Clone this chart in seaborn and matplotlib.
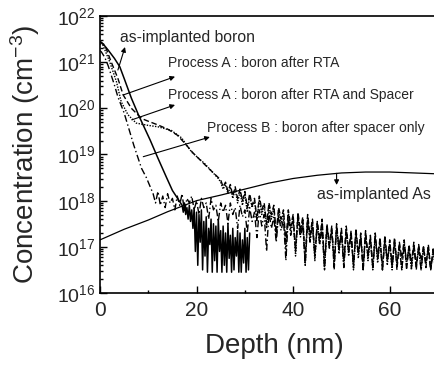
import numpy as np
import pandas as pd
import matplotlib
matplotlib.use("Agg")
import matplotlib.pyplot as plt
import seaborn as sns
from matplotlib.ticker import LogLocator, MultipleLocator, NullFormatter

# ---- data (depth in nm, log10 of concentration in cm^-3) ----
# as-implanted boron (solid)
asimp_depth = [0, 0.3, 1.0, 1.7, 3.0, 4.1, 5.1, 6.5, 8.0, 10.4, 12.0, 13.7, 15.0, 16.5]
asimp_log = [21.45, 21.42, 21.35, 21.26, 21.08, 20.90, 20.62, 20.22, 19.85, 19.31, 18.92, 18.52, 18.22, 17.98]
# noisy tail, 17 - 31 nm every 0.25 nm
asimp_tail_start, asimp_tail_step = 17.0, 0.25
asimp_tail_log = [
    17.90, 17.75, 17.95, 17.70, 17.85, 17.60, 17.90, 17.55, 17.80, 17.40,
    17.85, 16.90, 17.75, 16.60, 17.70, 17.10, 17.80, 16.50, 17.55, 16.80,
    17.65, 16.45, 17.40, 17.05, 17.60, 16.45, 17.50, 16.70, 17.45, 16.45,
    17.60, 16.90, 17.35, 16.45, 17.45, 16.60, 17.30, 16.45, 17.50, 16.75,
    17.25, 16.45, 17.40, 16.50, 17.20, 16.80, 17.35, 16.45, 17.30, 16.45,
    17.15, 16.65, 17.40, 16.45, 17.20, 16.50, 17.30,
]

# Process A : boron after RTA (dashed)
rta_depth = [0, 1.0, 2.3, 3.7, 4.8, 6.5, 8.6, 10.0, 12.0, 14.0, 16.0, 17.5, 19.3, 22.1, 24.5]
rta_log = [21.45, 21.37, 21.01, 20.65, 20.29, 20.00, 19.78, 19.72, 19.64, 19.55, 19.42, 19.25, 19.03, 18.74, 18.50]
# Process A : boron after RTA and Spacer (dotted)
rtasp_depth = [0, 0.6, 2.0, 3.4, 4.4, 5.8, 7.5, 10.0, 12.0, 14.8, 16.9, 19.0, 21.7, 24.5]
rtasp_log = [21.40, 21.37, 21.01, 20.58, 20.14, 19.86, 19.68, 19.63, 19.60, 19.52, 19.36, 19.05, 18.80, 18.48]
# noisy tails of both Process A profiles, 25 - 70 nm every 0.5 nm
procA_tail_start, procA_tail_step = 25.0, 0.5
rta_tail_log = [
    18.45, 18.30, 18.40, 18.20, 18.35, 18.10, 18.30, 18.05, 18.25, 18.00,
    18.20, 17.85, 18.15, 17.90, 18.05, 17.60, 18.10, 17.80, 17.95, 17.50,
    17.95, 17.70, 17.90, 17.30, 17.85, 17.60, 17.80, 17.10, 17.80, 17.45,
    17.70, 16.90, 17.75, 17.35, 17.65, 16.70, 17.70, 17.25, 17.60, 16.80,
    17.55, 17.15, 17.60, 16.60, 17.50, 17.05, 17.45, 16.50, 17.50, 16.95,
    17.40, 16.70, 17.45, 16.90, 17.35, 16.55, 17.40, 16.85, 17.30, 16.50,
    17.35, 16.80, 17.25, 16.55, 17.30, 16.75, 17.20, 16.50, 17.25, 16.70,
    17.15, 16.60, 17.20, 16.50, 17.10, 16.75, 17.15, 16.50, 17.05, 16.65,
    17.10, 16.50, 17.05, 16.70, 17.00, 16.55, 17.05, 16.50, 16.95, 16.65,
    17.00,
]
rtasp_tail_log = [
    18.40, 18.25, 18.35, 18.15, 18.30, 18.05, 18.25, 17.95, 18.20, 17.90,
    18.15, 17.75, 18.10, 17.85, 18.00, 17.55, 18.05, 17.70, 17.90, 17.40,
    17.90, 17.60, 17.85, 17.20, 17.80, 17.50, 17.75, 16.95, 17.75, 17.35,
    17.65, 16.80, 17.70, 17.25, 17.60, 16.60, 17.65, 17.15, 17.55, 16.70,
    17.50, 17.05, 17.55, 16.50, 17.45, 16.95, 17.40, 16.60, 17.45, 16.85,
    17.35, 16.55, 17.40, 16.80, 17.30, 16.50, 17.35, 16.75, 17.25, 16.55,
    17.30, 16.70, 17.20, 16.50, 17.25, 16.65, 17.15, 16.55, 17.20, 16.60,
    17.10, 16.50, 17.15, 16.65, 17.05, 16.50, 17.10, 16.60, 17.00, 16.50,
    17.05, 16.60, 17.00, 16.50, 16.95, 16.65, 17.00, 16.55, 16.90, 16.50,
    16.95,
]

# Process B : boron after spacer only (dash-dot)
procB_depth = [0, 0.3, 1.0, 1.7, 3.0, 3.7, 5.0, 7.0, 8.6, 9.6, 10.4]
procB_log = [21.25, 21.22, 21.10, 20.92, 20.50, 20.25, 19.90, 19.20, 18.70, 18.50, 18.30]
procB_tail_start, procB_tail_step = 11.0, 0.5
procB_tail_log = [
    18.15, 17.95, 18.20, 17.90, 18.10, 17.85, 18.15, 17.95, 18.05, 17.80,
    18.10, 17.90, 18.15, 17.75, 18.05, 17.95, 18.10, 17.80, 18.00, 17.70,
    18.05, 17.85, 17.95, 17.60, 18.05, 17.80, 17.90, 17.55, 17.95, 17.75,
    17.90, 17.50, 17.95, 17.70, 17.85, 17.40, 17.90, 17.65, 17.80, 17.30,
    17.85, 17.55, 17.75, 17.20, 17.80, 17.45, 17.70, 16.90, 17.75, 17.40,
    17.65, 17.10, 17.70, 17.35, 17.60, 16.70, 17.65, 17.25, 17.55, 16.95,
    17.60, 17.20, 17.50, 16.60, 17.55, 17.10, 17.45, 16.80, 17.50, 17.05,
    17.40, 16.50, 17.45, 17.00, 17.35, 16.70, 17.40, 16.95, 17.30, 16.55,
    17.35, 16.90, 17.25, 16.60, 17.30, 16.85, 17.20, 16.50, 17.25, 16.80,
    17.15, 16.55, 17.20, 16.75, 17.10, 16.50, 17.15, 16.70, 17.05, 16.55,
    17.10, 16.65, 17.00, 16.50, 17.05, 16.70, 16.95, 16.55, 17.00, 16.60,
    16.95, 16.50, 17.00, 16.65, 16.90, 16.50, 16.95, 16.60, 16.90,
]

# as-implanted arsenic (smooth)
as_depth = [0, 5, 10, 14, 20, 25, 30, 35, 40, 45, 50, 55, 60, 65, 70]
as_log = [17.15, 17.38, 17.58, 17.76, 18.00, 18.12, 18.25, 18.38, 18.48, 18.55, 18.60, 18.62, 18.62, 18.60, 18.58]


def profile(depth, logc, tail_start=None, tail_step=None, tail_log=()):
    d = list(depth) + [tail_start + i * tail_step for i in range(len(tail_log))]
    c = list(logc) + list(tail_log)
    return pd.DataFrame({"depth": d, "conc": np.power(10.0, c)})


df_asimp = profile(asimp_depth, asimp_log, asimp_tail_start, asimp_tail_step, asimp_tail_log)
df_rta = profile(rta_depth, rta_log, procA_tail_start, procA_tail_step, rta_tail_log)
df_rtasp = profile(rtasp_depth, rtasp_log, procA_tail_start, procA_tail_step, rtasp_tail_log)
df_procB = profile(procB_depth, procB_log, procB_tail_start, procB_tail_step, procB_tail_log)
df_as = profile(as_depth, as_log)

sns.set_theme(style="ticks")
plt.rcParams["font.family"] = ["Liberation Sans", "DejaVu Sans"]
plt.rcParams["mathtext.fontset"] = "custom"
plt.rcParams["mathtext.rm"] = "Liberation Sans"
plt.rcParams["mathtext.it"] = "Liberation Sans:italic"

fig = plt.figure(figsize=(4.34, 3.65), dpi=100)
ax = fig.add_axes([0.2304, 0.1973, 0.7788, 0.7589])

line_kw = dict(color="black", estimator=None, sort=False, ax=ax)
sns.lineplot(data=df_as, x="depth", y="conc", lw=0.9, linestyle="-", **line_kw)
sns.lineplot(data=df_rtasp, x="depth", y="conc", lw=1.0, linestyle=(0, (1, 1)), **line_kw)
sns.lineplot(data=df_rta, x="depth", y="conc", lw=1.0, linestyle=(0, (4, 2)), **line_kw)
sns.lineplot(data=df_procB, x="depth", y="conc", lw=1.0, linestyle=(0, (5, 2, 1, 2)), **line_kw)
sns.lineplot(data=df_asimp, x="depth", y="conc", lw=1.1, linestyle="-", **line_kw)

ax.set_yscale("log")
ax.set_xlim(0, 70)
ax.set_ylim(1e16, 1e22)
ax.xaxis.set_major_locator(MultipleLocator(20))
ax.xaxis.set_minor_locator(MultipleLocator(10))
ax.yaxis.set_major_locator(LogLocator(base=10, numticks=10))
ax.yaxis.set_minor_locator(LogLocator(base=10, subs=np.arange(2, 10), numticks=100))
ax.yaxis.set_minor_formatter(NullFormatter())
ax.tick_params(which="both", direction="in", color="black", width=1.0)
ax.tick_params(which="major", length=5)
ax.tick_params(which="minor", length=2.5)
ax.tick_params(axis="x", labelsize=15, pad=6)
ax.tick_params(axis="y", labelsize=14, pad=3)
for s in ax.spines.values():
    s.set_linewidth(1.2)
    s.set_color("black")

ax.set_xlabel("Depth (nm)", fontsize=20)
ax.set_ylabel("Concentration (cm$^{-3}$)", fontsize=20)
ax.xaxis.set_label_coords(0.515, -0.145)
ax.yaxis.set_label_coords(-0.172, 0.5)

# labels and arrows (axes fraction); arrow heads point toward the labels
arrow_kw = dict(arrowstyle="-|>", color="black", lw=0.8, mutation_scale=7, shrinkA=0, shrinkB=0)
labels = [
    ("as-implanted boron", (0.059, 0.924), 11.3, (0.053, 0.805), (0.074, 0.888)),
    ("Process A : boron after RTA", (0.201, 0.830), 10, (0.069, 0.715), (0.222, 0.781)),
    ("Process A : boron after RTA and Spacer", (0.201, 0.715), 10, (0.094, 0.625), (0.222, 0.679)),
    ("Process B : boron after spacer only", (0.317, 0.596), 10, (0.128, 0.492), (0.325, 0.563)),
    ("as-implanted As", (0.642, 0.354), 11.5, (0.700, 0.432), (0.700, 0.390)),
]
for txt, pos, fs, tail, head in labels:
    ax.text(pos[0], pos[1], txt, transform=ax.transAxes, fontsize=fs, ha="left", va="center")
    ax.annotate("", xy=head, xytext=tail, xycoords="axes fraction", textcoords="axes fraction",
                arrowprops=arrow_kw)

fig.savefig("out.png", dpi=100, facecolor="white")
